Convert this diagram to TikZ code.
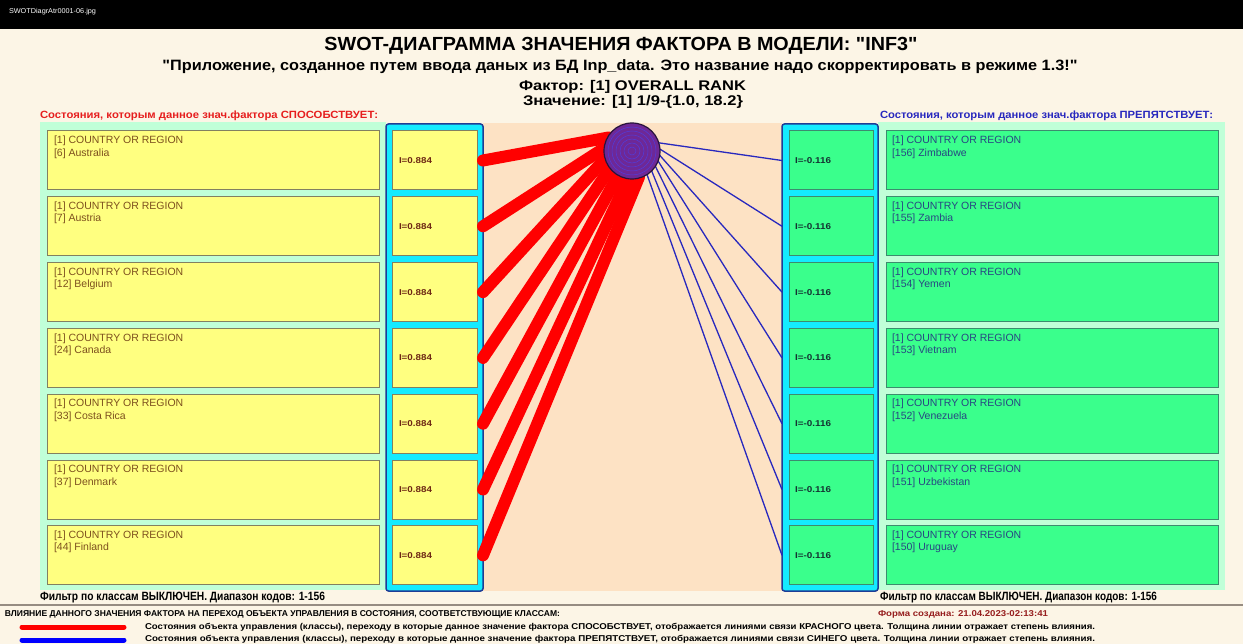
\documentclass[tikz,border=0pt]{standalone}
\usepackage{fontspec}
\setmainfont{Liberation Sans}[Ligatures=TeXOff]
\usepackage{graphicx}
\usetikzlibrary{calc}
\definecolor{cream}{RGB}{252,245,230}
\definecolor{peach}{RGB}{253,226,196}
\definecolor{palegr}{RGB}{192,255,216}
\definecolor{ybox}{RGB}{255,255,128}
\definecolor{yborder}{RGB}{130,128,96}
\definecolor{gbox}{RGB}{58,255,140}
\definecolor{gborder}{RGB}{60,140,110}
\definecolor{cyanp}{RGB}{20,235,255}
\definecolor{cyanb}{RGB}{30,60,150}
\definecolor{ltextc}{RGB}{125,80,30}
\definecolor{rtextc}{RGB}{40,70,130}
\definecolor{itl}{RGB}{110,40,20}
\definecolor{itr}{RGB}{20,50,50}
\definecolor{redhead}{RGB}{230,30,30}
\definecolor{bluehead}{RGB}{40,40,190}
\definecolor{bluel}{RGB}{40,40,190}
\definecolor{purp}{RGB}{110,40,150}
\definecolor{ringc}{RGB}{80,60,220}
\definecolor{formc}{RGB}{150,30,30}
\definecolor{sepc}{RGB}{150,140,130}
\definecolor{circb}{RGB}{40,20,60}
\newcommand{\fitw}[2]{\resizebox{#1pt}{\height}{#2}}
\tikzset{
  txt/.style={inner sep=0pt, outer sep=0pt},
  panel/.style={inner sep=0pt, outer sep=0pt, anchor=north west},
  lbox/.style={panel, fill=ybox, draw=yborder, line width=1pt},
  rbox/.style={panel, fill=gbox, draw=gborder, line width=1pt},
  cyanpanel/.style={panel, fill=cyanp, draw=cyanb, line width=1.5pt, rounded corners=2.5pt},
  boxtext/.style={txt, align=left, anchor=north west, font=\fontsize{10.5}{12.5}\selectfont},
  itext/.style={txt, anchor=west, font=\fontsize{8.5}{9}\selectfont\bfseries},
  redline/.style={red, line width=12pt, line cap=round},
  blueline/.style={bluel, line width=1.3pt},
}
\begin{document}
\begin{tikzpicture}[x=1pt,y=-1pt]
\useasboundingbox (0,0) rectangle (1243,644);
\clip (0,0) rectangle (1243,644);
% backgrounds
\fill[cream] (0,0) rectangle (1243,644);
\fill[black] (0,0) rectangle (1243,29);
\node[txt, anchor=west, text=white, font=\fontsize{7}{8}\selectfont] (fname) at (9,12) {\fitw{87}{SWOTDiagrAtr0001-06.jpg}};
% titles
\node[txt, font=\fontsize{19}{20}\selectfont\bfseries] (title) at (621,46) {\fitw{593}{SWOT-ДИАГРАММА ЗНАЧЕНИЯ ФАКТОРА В МОДЕЛИ: "INF3"}};
\node[txt, font=\fontsize{15}{16}\selectfont\bfseries] (sub) at (620,67) {\fitw{915}{"Приложение, созданное путем ввода даных из БД Inp\_data. Это название надо скорректировать в режиме 1.3!"}};
\node[txt, font=\fontsize{14}{15}\selectfont\bfseries] (fact) at (632.5,87) {\fitw{227}{Фактор: [1] OVERALL RANK}};
\node[txt, font=\fontsize{14}{15}\selectfont\bfseries] (val) at (633,102) {\fitw{220}{Значение: [1] 1/9-\{1.0, 18.2\}}};
\node[txt, anchor=west, text=redhead, font=\fontsize{10.5}{11}\selectfont\bfseries] (lhead) at (40,116) {\fitw{338}{Состояния, которым данное знач.фактора СПОСОБСТВУЕТ:}};
\node[txt, anchor=west, text=bluehead, font=\fontsize{10.5}{11}\selectfont\bfseries] (rhead) at (880,116) {\fitw{333}{Состояния, которым данное знач.фактора ПРЕПЯТСТВУЕТ:}};
% panels
\node[panel, fill=palegr, minimum width=346pt, minimum height=468pt] (lpanel) at (40,122) {};
\node[panel, fill=palegr, minimum width=347pt, minimum height=468pt] (rpanel) at (878,122) {};
\node[panel, fill=peach, minimum width=299pt, minimum height=468pt] (mid) at (483,123) {};
\node[cyanpanel, minimum width=97pt, minimum height=467pt] (lcyan) at (386,124) {};
\node[cyanpanel, minimum width=96pt, minimum height=467pt] (rcyan) at (782,124) {};
% left boxes
\foreach \i/\nm in {1/{[6] Australia},2/{[7] Austria},3/{[12] Belgium},4/{[24] Canada},5/{[33] Costa Rica},6/{[37] Denmark},7/{[44] Finland}}{
  \pgfmathsetmacro{\yt}{131+(\i-1)*65.8}
  \node[lbox, minimum width=332pt, minimum height=59pt] (L\i) at (47,\yt) {};
  \node[boxtext, text=ltextc] (L\i t) at (54,\yt+5) {[1] COUNTRY OR REGION\\\nm};
  \node[lbox, minimum width=85pt, minimum height=59pt] (LI\i) at (392,\yt) {};
  \node[itext, text=itl] (LI\i t) at (399,\yt+29.5) {\fitw{33}{I=0.884}};
}
% right boxes
\foreach \i/\nm in {1/{[156] Zimbabwe},2/{[155] Zambia},3/{[154] Yemen},4/{[153] Vietnam},5/{[152] Venezuela},6/{[151] Uzbekistan},7/{[150] Uruguay}}{
  \pgfmathsetmacro{\yt}{131+(\i-1)*65.8}
  \node[rbox, minimum width=332pt, minimum height=59pt] (R\i) at (886,\yt) {};
  \node[boxtext, text=rtextc] (R\i t) at (892,\yt+5) {[1] COUNTRY OR REGION\\\nm};
  \node[rbox, minimum width=84pt, minimum height=59pt] (RI\i) at (789,\yt) {};
  \node[itext, text=itr] (RI\i t) at (795,\yt+29.5) {\fitw{36}{I=-0.116}};
}
% factor circle position
\coordinate (Fc) at (632,151);
% red lines
\foreach \i in {1,...,7}{
  \pgfmathsetmacro{\a}{150+(\i-1)*22.5}
  \draw[redline] ($(Fc)+(\a:27pt)$) -- ($(LI\i.east)+(6,0)$);
}
% blue lines
\foreach \i in {1,...,7}{
  \pgfmathsetmacro{\a}{18-(\i-1)*12.5}
  \draw[blueline] ($(Fc)+(\a:27pt)$) -- ($(RI\i.west)+(-7,0)$);
}
% circle
\node[circle, minimum size=56pt, inner sep=0pt, fill=purp, draw=circb, line width=1.2pt] (F) at (Fc) {};
\foreach \r in {4,8,12,16,20,24}{
  \draw[ringc, line width=0.5pt] (F.center) circle[radius=\r pt];
}
% filter texts
\node[txt, anchor=west, font=\fontsize{12}{13}\selectfont\bfseries] (lfilt) at (40,598) {\fitw{285}{Фильтр по классам ВЫКЛЮЧЕН. Диапазон кодов: 1-156}};
\node[txt, anchor=west, font=\fontsize{12}{13}\selectfont\bfseries] (rfilt) at (880,598) {\fitw{277}{Фильтр по классам ВЫКЛЮЧЕН. Диапазон кодов: 1-156}};
% separator
\coordinate (sepa) at (0,605);
\coordinate (sepb) at (1243,605);
\draw[sepc, line width=1.5pt] (sepa) -- (sepb);
% legend
\node[txt, anchor=west, font=\fontsize{8.5}{9}\selectfont\bfseries] (infl) at (5,614) {\fitw{555}{ВЛИЯНИЕ ДАННОГО ЗНАЧЕНИЯ ФАКТОРА НА ПЕРЕХОД ОБЪЕКТА УПРАВЛЕНИЯ В СОСТОЯНИЯ, СООТВЕТСТВУЮЩИЕ КЛАССАМ:}};
\node[txt, anchor=west, text=formc, font=\fontsize{8.5}{9}\selectfont\bfseries] (form) at (878,614) {\fitw{170}{Форма создана: 21.04.2023-02:13:41}};
\coordinate (lra) at (22,627);
\coordinate (lrb) at (124,627);
\draw[red, line width=5pt, line cap=round] (lra) -- (lrb);
\coordinate (lba) at (22,640);
\coordinate (lbb) at (124,640);
\draw[blue, line width=5pt, line cap=round] (lba) -- (lbb);
\node[txt, anchor=west, font=\fontsize{8.5}{9}\selectfont\bfseries] (leg1) at (145,627) {\fitw{950}{Состояния объекта управления (классы), переходу в которые данное значение фактора СПОСОБСТВУЕТ, отображается линиями связи КРАСНОГО цвета. Толщина линии отражает степень влияния.}};
\node[txt, anchor=west, font=\fontsize{8.5}{9}\selectfont\bfseries] (leg2) at (145,639) {\fitw{950}{Состояния объекта управления (классы), переходу в которые данное значение фактора ПРЕПЯТСТВУЕТ, отображается линиями связи СИНЕГО цвета. Толщина линии отражает степень влияния.}};
\end{tikzpicture}
\end{document}
